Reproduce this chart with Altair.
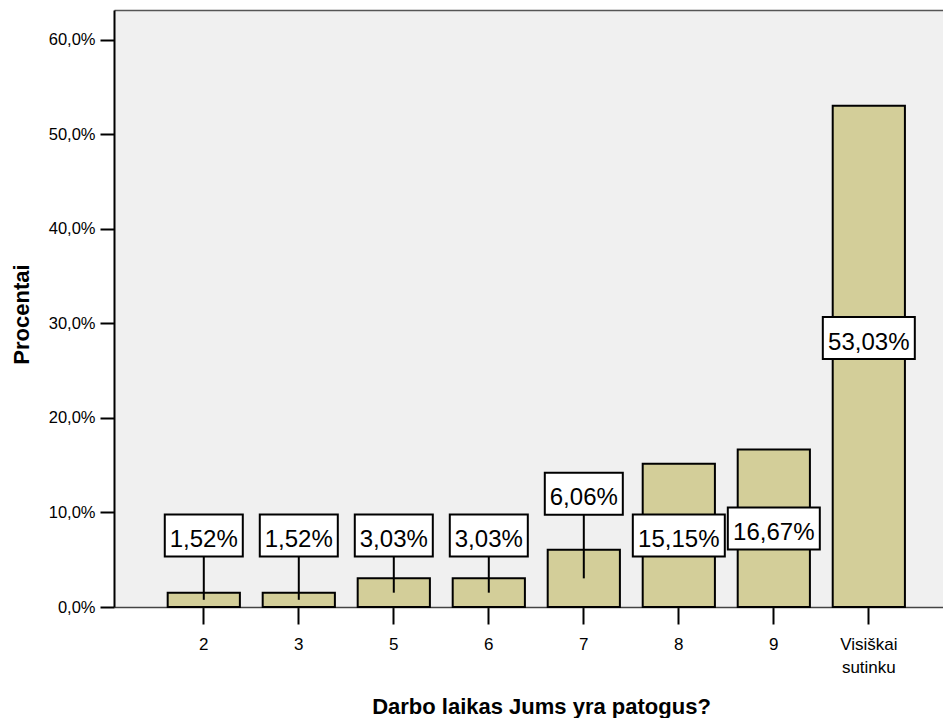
import altair as alt
import pandas as pd

categories = ["2", "3", "5", "6", "7", "8", "9", "Visiškai sutinku"]
percent = [1.52, 1.52, 3.03, 3.03, 6.06, 15.15, 16.67, 53.03]
# label anchor heights (in % units)
label_y = [7.57, 7.57, 7.57, 7.57, 11.98, 7.57, 8.30, 28.46]

df = pd.DataFrame({"cat": categories, "pct": percent, "label_y": label_y})
df["half"] = df["pct"] / 2
df["text"] = df["pct"].map(lambda v: f"{v:.2f}".replace(".", ",") + "%")
df["kind"] = df["text"].map(lambda s: "wide" if len(s) > 5 else "narrow")

FONT = "Liberation Sans"

x_scale = alt.Scale(paddingInner=0.24, paddingOuter=0.483, align=0.585)

x_enc = alt.X(
    "cat:N",
    sort=categories,
    scale=x_scale,
    axis=alt.Axis(
        title="Darbo laikas Jums yra patogus?",
        labelExpr="split(datum.label, ' ')",
        labelAngle=0,
        labelFont=FONT,
        labelFontSize=17,
        labelColor="black",
        labelBaseline="top",
        labelPadding=12.5,
        labelLineHeight=23.3,
        tickSize=17,
        tickWidth=2,
        tickColor="black",
        domainColor="#444444",
        domainWidth=1.5,
        titleFont=FONT,
        titleFontSize=22,
        titleFontWeight="bold",
        titleColor="black",
        titleBaseline="alphabetic",
        titleX=427,
        titleY=106,
        titleAnchor="start",
        titleAlign="center",
    ),
)

# top frame line drawn as a bare top axis
x_top = alt.X(
    "cat:N",
    sort=categories,
    scale=x_scale,
    axis=alt.Axis(
        orient="top",
        title=None,
        labels=False,
        ticks=False,
        domainColor="#555555",
        domainWidth=1.5,
    ),
)

y_scale = alt.Scale(domain=[0, 63.15], nice=False, zero=True)
y_axis = alt.Axis(
    title="Procentai",
    values=[0, 10, 20, 30, 40, 50, 60],
    labelExpr="replace(format(datum.value, '.1f'), '.', ',') + '%'",
    labelFont=FONT,
    labelFontSize=16.5,
    labelColor="black",
    labelPadding=5,
    tickSize=14,
    tickWidth=2,
    tickColor="black",
    domainColor="black",
    domainWidth=2,
    grid=False,
    titleFont=FONT,
    titleFontSize=22,
    titleFontWeight="bold",
    titleColor="black",
    titleBaseline="alphabetic",
    titleX=-85.5,
    titleY=304,
    titleAngle=270,
    titleAlign="center",
)

base = alt.Chart(df)

bars = base.mark_bar(fill="#d3ce99", stroke="black", strokeWidth=2).encode(
    x=x_enc,
    y=alt.Y("pct:Q", scale=y_scale, axis=y_axis),
)

leaders = base.mark_rule(color="black", strokeWidth=2).encode(
    x=x_top,
    y=alt.Y("label_y:Q"),
    y2="half:Q",
)

narrow_path = "M-0.848,-0.457L0.848,-0.457L0.848,0.457L-0.848,0.457Z"
wide_path = "M-1,-0.457L1,-0.457L1,0.457L-1,0.457Z"

boxes = base.mark_point(
    filled=True, fill="white", stroke="black", strokeWidth=2, opacity=1, size=8464
).encode(
    x=alt.X("cat:N", sort=categories, axis=None),
    y=alt.Y("label_y:Q"),
    shape=alt.Shape(
        "kind:N",
        scale=alt.Scale(domain=["narrow", "wide"], range=[narrow_path, wide_path]),
        legend=None,
    ),
)

texts = base.mark_text(
    font=FONT, fontSize=24, color="black", baseline="alphabetic", dy=11.7
).encode(
    x=alt.X("cat:N", sort=categories, axis=None),
    y=alt.Y("label_y:Q"),
    text="text:N",
)

chart = (
    alt.layer(bars, leaders, boxes, texts)
    .resolve_axis(x="independent")
    .properties(
        width=829,
        height=597,
        autosize=alt.AutoSizeParams(type="none"),
        padding={"left": 106, "top": 2, "right": 0, "bottom": 111},
        background="white",
    )
    .configure_view(fill="#f0f0f0", stroke=None)
)

chart.save("out.html", embed_options={"renderer": "svg", "actions": False})
